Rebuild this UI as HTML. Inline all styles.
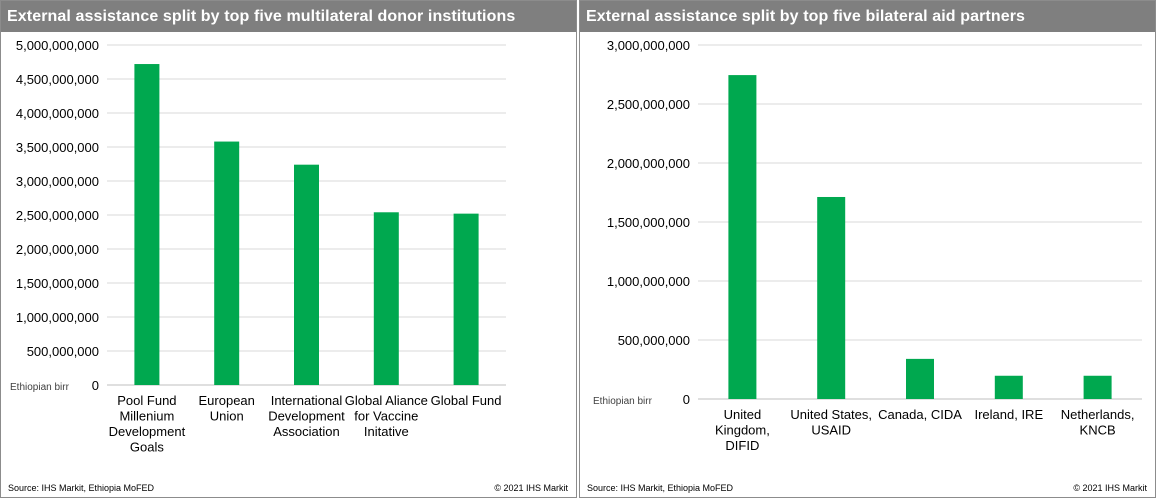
<!DOCTYPE html>
<html><head><meta charset="utf-8"><style>
body{margin:0;width:1157px;height:501px;background:#fff;font-family:"Liberation Sans",Arial,sans-serif;overflow:hidden}
.panel{position:absolute;top:0;height:498px;border:1px solid #8c8c8c;box-sizing:border-box;background:#fff}
.title{position:absolute;left:0;top:0;right:0;height:31px;background:#7f7f7f;color:#fff;font-weight:bold;font-size:16px;line-height:32px;padding-left:6px;letter-spacing:0.1px}
svg{position:absolute;left:0;top:0}
</style></head><body>
<div class="panel" style="left:0;width:577px">
<div class="title">External assistance split by top five multilateral donor institutions</div>
<svg id="c1" width="577" height="498"></svg>
</div>
<div class="panel" style="left:579px;width:577px">
<div class="title">External assistance split by top five bilateral aid partners</div>
<svg id="c2" width="577" height="498"></svg>
</div>
<script>
const multiCategories=[["Pool Fund","Millenium","Development","Goals"],["European","Union"],["International","Development","Association"],["Global Aliance","for Vaccine","Initative"],["Global Fund"]];
const multiValues=[4720000000,3580000000,3240000000,2540000000,2520000000];
const multiTicks=[0,500000000,1000000000,1500000000,2000000000,2500000000,3000000000,3500000000,4000000000,4500000000,5000000000];
const biCategories=[["United","Kingdom,","DIFID"],["United States,","USAID"],["Canada, CIDA"],["Ireland, IRE"],["Netherlands,","KNCB"]];
const biValues=[2745000000,1712000000,340000000,197000000,197000000];
const biTicks=[0,500000000,1000000000,1500000000,2000000000,2500000000,3000000000];
const NS="http://www.w3.org/2000/svg";
function el(svg,tag,attrs,txt){const e=document.createElementNS(NS,tag);for(const k in attrs)e.setAttribute(k,attrs[k]);if(txt!=null)e.textContent=txt;svg.appendChild(e);return e;}
function fmt(v){return v===0?"0":v.toLocaleString("en-US");}
function draw(id,cats,vals,ticks,o,prefix){
 const svg=document.getElementById(id);
 const max=ticks[ticks.length-1];
 const y=v=>o.y0-(v/max)*(o.y0-o.y1);
 const band=(o.x1-o.x0)/cats.length;
 const x=i=>o.x0+band*(i+0.5);
 ticks.forEach(t=>{
  const g=el(svg,"line",{x1:o.x0,x2:o.x1,y1:y(t),y2:y(t),stroke:t===0?"#bfbfbf":"#d9d9d9","stroke-width":1});
  
  
  const l=el(svg,"text",{x:o.x0-8,y:y(t)+5,"text-anchor":"end","font-size":"13px",fill:"#000"},fmt(t));
  
  
 });
 vals.forEach((v,i)=>{
  const r=el(svg,"rect",{x:x(i)-o.bw/2,y:y(v),width:o.bw,height:o.y0-y(v),fill:"#00a84f"});
  
  
  cats[i].forEach((line,j)=>{
   const t=el(svg,"text",{x:x(i),y:o.y0+20+j*15.5,"text-anchor":"middle","font-size":"13px",fill:"#000"},line);
   
   
  });
 });
 const u=el(svg,"text",{x:o.ux,y:o.y0+5,"font-size":"10px",fill:"#404040"},"Ethiopian birr");
 
 
 const s=el(svg,"text",{x:7,y:490,"font-size":"9px",fill:"#000"},"Source: IHS Markit, Ethiopia MoFED");
 
 
 const c=el(svg,"text",{x:567,y:490,"text-anchor":"end","font-size":"9px",fill:"#000"},"© 2021 IHS Markit");
 
 
}
draw("c1",multiCategories,multiValues,multiTicks,{x0:106,x1:505,y0:384,y1:44,bw:25,ux:9},"multilateral");
draw("c2",biCategories,biValues,biTicks,{x0:118,x1:562,y0:398,y1:44,bw:28,ux:13},"bilateral");
</script>
</body></html>
